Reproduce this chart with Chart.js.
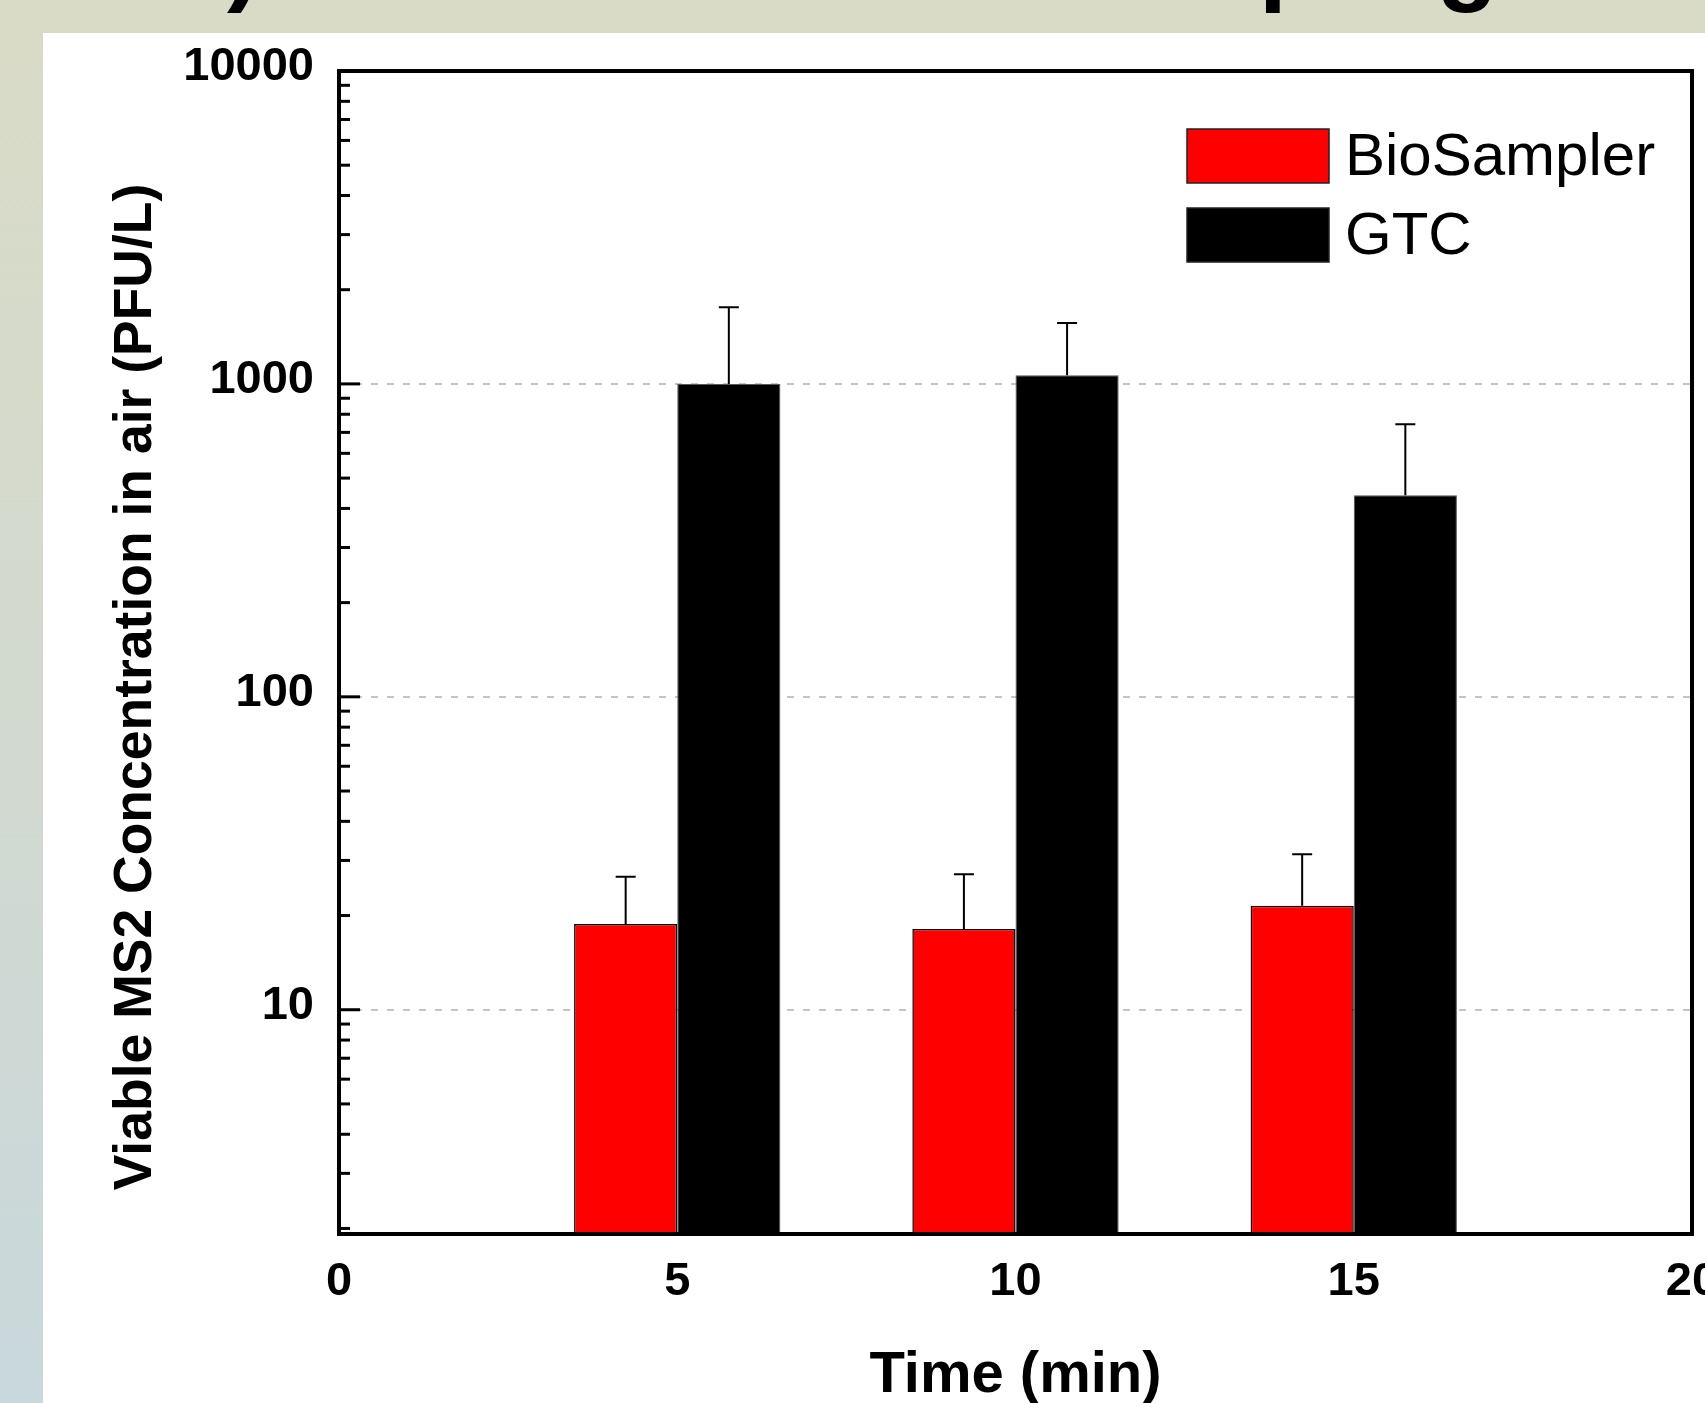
<!DOCTYPE html>
<html>
<head>
<meta charset="utf-8">
<script src="https://cdn.jsdelivr.net/npm/chart.js@4.4.1/dist/chart.umd.min.js"></script>
<style>
  html, body { margin: 0; padding: 0; }
  body {
    width: 1705px; height: 1403px; overflow: hidden; position: relative;
    background: linear-gradient(to bottom, #d9dbc6 0%, #d2d9cf 50%, #c9d8dc 100%);
    font-family: "Liberation Sans", Arial, sans-serif;
  }
  #panel { position: absolute; left: 43px; top: 33px; right: 0; bottom: 0; background: #fff; }
  #slideTitle {
    position: absolute; left: 166px; top: -93px; margin: 0;
    font: bold 100px/1 "Liberation Sans", Arial, sans-serif; color: #000; white-space: nowrap;
  }
  #graficoMS2 { position: absolute; left: 0; top: 0; }
</style>
</head>
<body>
<div id="panel"></div>
<h1 id="slideTitle">b) Viable Virus Air Sampling</h1>
<canvas id="graficoMS2" width="1800" height="1460"></canvas>

<script>
// =============================
// DADOS
// =============================
const tempos = [5, 10, 15];                 // Time (min)
const bioSampler = [18.8, 18.1, 21.5];      // PFU/L
const bioSamplerErro = [7.8, 9.0, 9.9];
const gtc = [1000, 1065, 441];
const gtcErro = [758, 500, 302];
const yTickLabels = [10, 100, 1000, 10000];
const yMinorMult = [2, 3, 4, 5, 6, 7, 8, 9];
const Y_MIN = 1.92, Y_MAX = 10000;

const FONTE = '"Liberation Sans", Arial, sans-serif';

function pontos(vals) {
  return tempos.map((t, i) => ({ x: t, y: vals[i] }));
}

// ticks do eixo log: 2..9 x 10^n e as décadas
function ticksLog() {
  const lista = [];
  [1, 10, 100, 1000].forEach(d => {
    if (d >= Y_MIN) lista.push(d);
    yMinorMult.forEach(m => { if (m * d >= Y_MIN && m * d <= Y_MAX) lista.push(m * d); });
  });
  lista.push(Y_MAX);
  return lista;
}

// =============================
// PLUGINS
// =============================
const barrasErro = {
  id: 'barrasErro',
  afterDatasetsDraw(chart) {
    const { ctx } = chart;
    const y = chart.scales.y;
    chart.data.datasets.forEach((ds, di) => {
      const meta = chart.getDatasetMeta(di);
      meta.data.forEach((bar, i) => {
        const topo = y.getPixelForValue(ds.data[i].y + ds.erros[i]);
        ctx.save();
        ctx.strokeStyle = '#000';
        ctx.lineWidth = 2;
        ctx.beginPath();
        ctx.moveTo(bar.x, bar.y);
        ctx.lineTo(bar.x, topo);
        ctx.moveTo(bar.x - 10, topo);
        ctx.lineTo(bar.x + 10, topo);
        ctx.stroke();
        ctx.restore();
      });
    });
  }
};

const moldura = {
  id: 'moldura',
  afterDatasetsDraw(chart) {
    const { ctx, chartArea: a } = chart;
    const y = chart.scales.y;
    ctx.save();
    ctx.strokeStyle = '#000';
    ctx.lineWidth = 4;
    ctx.strokeRect(a.left, a.top, a.right - a.left, a.bottom - a.top);
    // ticks para dentro no eixo esquerdo
    ctx.lineWidth = 3;
    y.ticks.forEach(t => {
      const py = y.getPixelForValue(t.value);
      const len = yTickLabels.includes(t.value) ? 21 : 11;
      ctx.beginPath();
      ctx.moveTo(a.left, py);
      ctx.lineTo(a.left + len, py);
      ctx.stroke();
    });
    ctx.restore();
  }
};

const legendaDentro = {
  id: 'legendaDentro',
  afterDraw(chart) {
    const { ctx, chartArea: a } = chart;
    const x0 = a.right - 505;
    ctx.save();
    ctx.font = '60px ' + FONTE;
    ctx.textBaseline = 'middle';
    ctx.textAlign = 'left';
    chart.data.datasets.forEach((ds, i) => {
      const cy = a.top + 85 + i * 79;
      ctx.fillStyle = ds.backgroundColor;
      ctx.fillRect(x0, cy - 27, 142, 54);
      ctx.lineWidth = 1.5;
      ctx.strokeStyle = '#222';
      ctx.strokeRect(x0, cy - 27, 142, 54);
      ctx.fillStyle = '#000';
      ctx.fillText(ds.label, x0 + 158, cy + 2);
    });
    ctx.restore();
  }
};

const tituloY = {
  id: 'tituloY',
  afterDraw(chart) {
    const { ctx } = chart;
    ctx.save();
    ctx.translate(136, 687);
    ctx.rotate(-Math.PI / 2);
    ctx.font = 'bold 53.5px ' + FONTE;
    ctx.fillStyle = '#000';
    ctx.textAlign = 'center';
    ctx.textBaseline = 'middle';
    ctx.fillText('Viable MS2 Concentration in air (PFU/L)', 0, 0);
    ctx.restore();
  }
};

// =============================
// GRÁFICO
// =============================
const ctx = document.getElementById('graficoMS2');

const grafico = new Chart(ctx, {
  type: 'bar',
  data: {
    datasets: [
      {
        label: 'BioSampler',
        data: pontos(bioSampler),
        erros: bioSamplerErro,
        backgroundColor: '#ff0000',
        borderColor: '#000',
        borderWidth: 1.5
      },
      {
        label: 'GTC',
        data: pontos(gtc),
        erros: gtcErro,
        backgroundColor: '#000000',
        borderColor: '#555',
        borderWidth: 1
      }
    ]
  },
  options: {
    responsive: false,
    animation: false,
    devicePixelRatio: 1,
    categoryPercentage: 0.61,
    barPercentage: 1.0,
    layout: { padding: { left: 0, top: 71, right: 108, bottom: 49 } },
    plugins: {
      legend: { display: false },
      tooltip: { enabled: false }
    },
    scales: {
      x: {
        type: 'linear',
        min: 0,
        max: 20,
        offset: false,
        grid: { display: false, offset: false, drawTicks: false },
        border: { display: false },
        ticks: {
          stepSize: 5,
          padding: 20,
          color: '#000',
          font: { family: FONTE, size: 47, weight: 'bold' }
        },
        title: {
          display: true,
          text: 'Time (min)',
          color: '#000',
          padding: { top: 0, bottom: 0 },
          font: { family: FONTE, size: 58, weight: 'bold' }
        },
        afterFit(scale) { scale.height = 177; }
      },
      y: {
        type: 'logarithmic',
        min: Y_MIN,
        max: Y_MAX,
        afterBuildTicks(scale) {
          scale.ticks = ticksLog().map(v => ({ value: v, major: yTickLabels.includes(v) }));
        },
        grid: {
          drawTicks: false,
          lineWidth: 2,
          color: c => (c.tick && yTickLabels.includes(c.tick.value) && c.tick.value < Y_MAX) ? '#c4c4c4' : 'rgba(0,0,0,0)'
        },
        border: { display: false, dash: [7, 9] },
        ticks: {
          autoSkip: false,
          padding: 25,
          labelOffset: -4,
          color: '#000',
          font: { family: FONTE, size: 47, weight: 'bold' },
          callback: v => yTickLabels.includes(v) ? String(v) : ''
        },
        afterFit(scale) { scale.width = 339; }
      }
    }
  },
  plugins: [barrasErro, moldura, legendaDentro, tituloY]
});
</script>
</body>
</html>
